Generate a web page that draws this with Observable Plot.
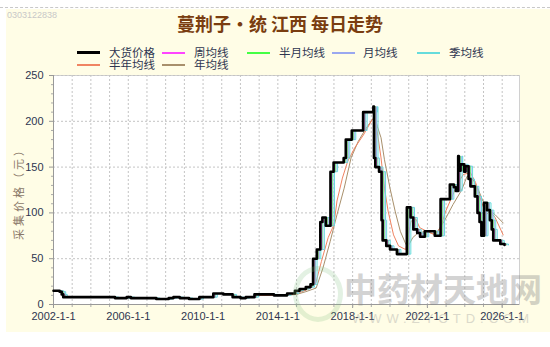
<!DOCTYPE html>
<html><head><meta charset="utf-8">
<script src="https://cdn.jsdelivr.net/npm/d3@7"></script>
<script src="https://cdn.jsdelivr.net/npm/@observablehq/plot@0.6"></script>
<style>
body{margin:0;background:#fff;}
#wrap{position:relative;width:550px;height:347px;overflow:hidden;font-family:"Liberation Sans",Arial,sans-serif;}
#bg{position:absolute;left:6px;top:9px;width:544px;height:323px;background:#fffde6;}
#topline{position:absolute;left:0;top:7px;width:550px;border-top:1px dashed #c8c8c8;}
#chart{position:absolute;left:0;top:0;}
#title{position:absolute;left:0;width:560px;top:10px;text-align:center;font:bold 18px "Noto Sans CJK SC",sans-serif;color:#7a3d10;}
#wm1{position:absolute;left:7px;top:10px;font:9px "Liberation Sans",Arial,sans-serif;color:#c8c8c8;}
.lg{position:absolute;font:11.5px "Noto Sans CJK SC",sans-serif;color:#2e3550;line-height:12px;}
.sw{position:absolute;height:0;}
#ylab{position:absolute;left:-32px;top:183px;width:100px;text-align:center;transform:rotate(-90deg);font:11px "Noto Sans CJK SC",sans-serif;color:#8a7868;letter-spacing:3px;}
#wmbig{position:absolute;left:344px;top:264px;font:bold 33px "Noto Sans CJK SC",sans-serif;color:#888;opacity:0.36;}
#wmurl{position:absolute;left:352px;top:311px;font:13px "Liberation Sans",Arial,sans-serif;color:#999;opacity:0.35;letter-spacing:5px;}
#wmlogo{position:absolute;left:293px;top:266px;width:40px;height:46px;border:5px solid #7fbf7f;border-radius:50%;opacity:0.22;}
</style></head>
<body>
<div id="wrap">
  <div id="bg"></div>
  <div id="topline"></div>
  <div id="chart"></div>
  <div id="wmlogo"></div>
  <div id="wmbig">中药材天地网</div>
  <div id="wmurl">WWW.ZYCTD.COM</div>
  <div id="wm1">0303122838</div>
  <div id="title">蔓荆子·统 江西 每日走势</div>
  <div id="legend"></div>
  <div id="ylab">采集价格（元）</div>
</div>
<script>
// ---- data ----
const seriesNames = ["大货价格","周均线","半月均线","月均线","季均线","半年均线","年均线"];
const seriesColors = ["#000000","#ff44ff","#44ff44","#9aa8f0","#66dcdc","#f08462","#a8906c"];

const priceDates = ["2002-01-01","2002-05-01","2002-06-10","2002-07-10","2005-04-15","2005-12-01","2006-02-20","2007-07-01","2008-03-01","2008-06-01","2008-10-01","2009-04-01","2009-10-20","2010-07-20","2011-02-01","2011-08-01","2012-01-01","2012-04-15","2012-10-01","2013-10-15","2014-07-01","2014-12-01","2015-03-01","2015-07-01","2015-10-01","2015-11-20","2016-02-01","2016-04-10","2016-05-20","2016-07-25","2016-10-25","2016-12-25","2017-07-10","2017-08-20","2017-12-15","2018-07-25","2019-02-10","2019-02-22","2019-03-20","2019-06-01","2019-07-20","2019-08-10","2019-10-20","2020-01-01","2020-05-15","2020-11-25","2021-02-05","2021-04-01","2021-06-15","2021-08-10","2021-11-10","2022-05-25","2022-09-15","2023-03-15","2023-06-01","2023-07-10","2023-08-25","2023-09-05","2023-10-10","2023-12-20","2024-01-15","2024-03-15","2024-04-20","2024-07-15","2024-09-05","2024-10-15","2024-11-20","2025-01-10","2025-03-10","2025-05-05","2025-06-10","2025-07-10","2025-11-25","2026-02-15"];
const priceValues = [15,14,11,8,7,8,7,6,7,8,7,6,8,12,11,8,7,8,11,10,12,15,17,19,22,50,60,90,95,86,145,155,160,180,190,210,216,160,150,145,92,70,64,60,55,106,95,82,78,74,80,75,115,131,128,124,162,146,153,145,151,137,129,118,100,90,75,111,103,92,82,70,66,65];

const halfYearDates = ["2013-01-01","2014-06-01","2015-01-01","2015-06-01","2015-10-01","2016-01-15","2016-05-01","2016-09-10","2016-12-31","2017-03-01","2017-06-15","2017-09-25","2018-02-10","2018-07-30","2019-01-20","2019-02-25","2019-05-01","2019-07-10","2019-09-15","2019-11-25","2020-03-10","2020-06-15","2020-11-01","2021-02-15","2021-05-25","2021-08-01","2021-12-15","2022-06-05","2022-09-15","2022-12-25","2023-05-15","2023-08-25","2023-12-05","2024-04-20","2024-08-01","2024-11-15","2025-02-25","2025-05-05","2025-08-15","2026-01-20"];
const halfYearValues = [10,10,12,15,18,24,47,73,87,113,138,156,171,185,202,204,187,160,127,102,76,64,60,91,93,84,80,76,84,102,120,133,142,144,133,113,98,102,95,76];

const yearDates = ["2013-01-01","2014-06-01","2015-01-01","2015-07-01","2016-01-20","2016-06-01","2016-10-20","2017-03-01","2017-07-20","2017-12-01","2018-04-20","2018-09-05","2019-01-20","2019-03-15","2019-05-01","2019-07-10","2019-09-15","2020-01-01","2020-04-10","2020-07-20","2020-12-05","2021-03-20","2021-06-30","2021-12-15","2022-06-05","2022-11-25","2023-05-15","2023-11-01","2024-02-15","2024-05-25","2024-09-10","2024-12-20","2025-04-01","2025-08-15","2026-01-20"];
const yearValues = [10,10,11,14,18,40,69,98,127,160,178,191,202,205,194,182,158,127,102,80,62,73,78,80,76,91,109,125,140,138,127,113,104,98,89];

const xDomain = ["2002-01-01","2026-12-05"];
const xTickDates = ["2002-01-01","2006-01-01","2010-01-01","2014-01-01","2018-01-01","2022-01-01","2026-01-01"];
const xTickLabels = ["2002-1-1","2006-1-1","2010-1-1","2014-1-1","2018-1-1","2022-1-1","2026-1-1"];
const yearGridDates = ["2003-01-01","2004-01-01","2005-01-01","2006-01-01","2007-01-01","2008-01-01","2009-01-01","2010-01-01","2011-01-01","2012-01-01","2013-01-01","2014-01-01","2015-01-01","2016-01-01","2017-01-01","2018-01-01","2019-01-01","2020-01-01","2021-01-01","2022-01-01","2023-01-01","2024-01-01","2025-01-01","2026-01-01"];
const yTicks = [0,50,100,150,200,250];
const yMinorTicks = [10,20,30,40,60,70,80,90,110,120,130,140,160,170,180,190,210,220,230,240];

// ---- build ----
const parse = d3.utcParse("%Y-%m-%d");
const toRows = (ds, vs) => ds.map((d, i) => ({date: parse(d), value: vs[i]}));
const price = toRows(priceDates, priceValues);
const halfYear = toRows(halfYearDates, halfYearValues);
const year = toRows(yearDates, yearValues);
const xt = xTickDates.map(parse);
const yg = yearGridDates.map(parse);
const labelOf = d => xTickLabels[xt.findIndex(t => +t === +d)];

const grid = {stroke: "#c4c4c4", strokeDasharray: "2,2", strokeWidth: 1};
const chart = Plot.plot({
  width: 550, height: 347,
  marginTop: 75, marginBottom: 43, marginLeft: 53, marginRight: 31,
  style: {background: "transparent", fontFamily: "'Liberation Sans', Arial, sans-serif", fontSize: "11px", color: "#2e3550"},
  x: {type: "utc", domain: xDomain.map(parse)},
  y: {domain: [0, 250]},
  marks: [
    Plot.frame({fill: "white", stroke: "#d0d0d0"}),
    Plot.ruleX(yg, grid),
    Plot.ruleY(yTicks.slice(1), grid),
    Plot.axisY({ticks: yTicks, tickSize: 4, tickPadding: 6, stroke: "#999", fill: "#2e3550", label: null}),
    Plot.axisY({ticks: yMinorTicks, tickSize: 2, stroke: "#aaa", text: null, label: null}),
    Plot.axisX({ticks: xt, tickFormat: labelOf, tickSize: 4, tickPadding: 4, stroke: "#999", fill: "#2e3550", label: null}),
    Plot.axisX({ticks: yg, tickSize: 3, stroke: "#aaa", text: null, label: null}),
    Plot.ruleY([0], {stroke: "#999"}),
    Plot.ruleX([parse(xDomain[0])], {stroke: "#999"}),
    Plot.line(year, {x: "date", y: "value", stroke: seriesColors[6], strokeWidth: 1}),
    Plot.line(halfYear, {x: "date", y: "value", stroke: seriesColors[5], strokeWidth: 1}),
    Plot.line(price, {x: "date", y: "value", curve: "step-after", stroke: seriesColors[4], strokeWidth: 1, dx: 4}),
    Plot.line(price, {x: "date", y: "value", curve: "step-after", stroke: seriesColors[3], strokeWidth: 1, dx: 2.5}),
    Plot.line(price, {x: "date", y: "value", curve: "step-after", stroke: seriesColors[2], strokeWidth: 1, dx: 1.6}),
    Plot.line(price, {x: "date", y: "value", curve: "step-after", stroke: seriesColors[1], strokeWidth: 1, dx: 1}),
    Plot.line(price, {x: "date", y: "value", curve: "step-after", stroke: seriesColors[0], strokeWidth: 2.6})
  ]
});
document.getElementById("chart").appendChild(chart);

// legend
const legendPos = [[77,109,52.5],[162,194,52.5],[247,279,52.5],[332,363,52.5],[417,449,52.5],[77,109,65],[162,194,65]];
const lg = document.getElementById("legend");
seriesNames.forEach((name, i) => {
  const [sx, tx, cy] = legendPos[i];
  const sw = document.createElement("div");
  sw.className = "sw";
  const w = i === 0 ? 3 : 2;
  sw.style.cssText = `left:${sx}px;top:${cy - w/2}px;width:23px;border-top:${w}px solid ${seriesColors[i]};`;
  lg.appendChild(sw);
  const t = document.createElement("div");
  t.className = "lg";
  t.style.left = tx + "px";
  t.style.top = (cy - 7) + "px";
  t.textContent = name;
  lg.appendChild(t);
});
</script>
</body></html>
